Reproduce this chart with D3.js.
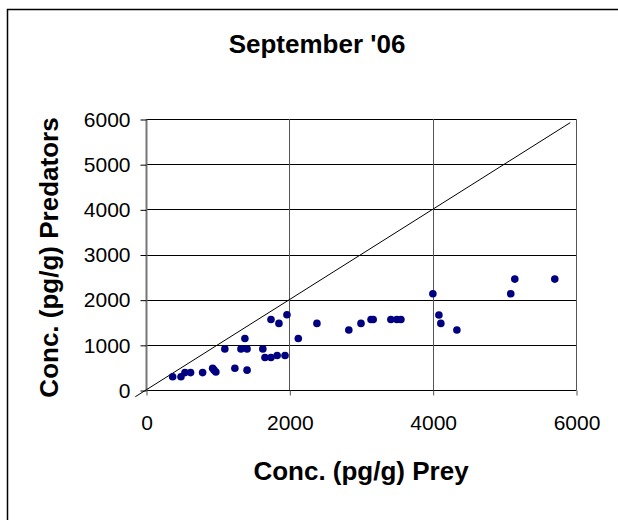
<!DOCTYPE html>
<html>
<head>
<meta charset="utf-8">
<script src="https://cdn.jsdelivr.net/npm/d3@7"></script>
<style>
html,body{margin:0;padding:0;background:#fff;}
svg{display:block;font-family:"Liberation Sans",Arial,sans-serif;}
</style>
</head>
<body>
<svg id="chart" width="618" height="520"></svg>
<script>
const titleText = "September '06";
const xTitle = "Conc. (pg/g) Prey";
const yTitle = "Conc. (pg/g) Predators";
const xTicks = [0, 2000, 4000, 6000];
const yTicks = [0, 1000, 2000, 3000, 4000, 5000, 6000];
const preyValues = [372, 488, 544, 622, 790, 930, 950, 975, 1100, 1240, 1325, 1380, 1410, 1410, 1630, 1660, 1744, 1830, 1940, 1744, 1855, 1967, 2125, 2385, 2830, 3000, 3140, 3170, 3417, 3500, 3557, 4003, 4087, 4114, 4338, 5090, 5146, 5704];
const predatorValues = [295, 295, 385, 385, 385, 480, 440, 400, 910, 480, 910, 1140, 910, 440, 910, 720, 720, 765, 765, 1560, 1475, 1665, 1140, 1475, 1330, 1475, 1560, 1560, 1560, 1560, 1560, 2130, 1660, 1475, 1330, 2130, 2455, 2455];
const lineX = [-150, 5920];
const lineY = [-150, 5920];

const svg = d3.select("#chart");
const pLeft = 146, pRight = 576, pTop = 119, pBottom = 390;
const x = d3.scaleLinear().domain([0, 6000]).range([pLeft, pRight]);
const y = d3.scaleLinear().domain([0, 6000]).range([pBottom, pTop]);

// outer border (only top/left visible)
svg.append("rect").attr("x", 7.5).attr("y", 9.5).attr("width", 640).attr("height", 540)
  .attr("fill", "none").attr("stroke", "#000").attr("stroke-width", 1.5);

// horizontal gridlines
svg.append("g").selectAll("line").data(yTicks.filter(d => d > 0)).join("line")
  .attr("x1", pLeft).attr("x2", pRight)
  .attr("y1", d => Math.round(y(d)) + 0.5).attr("y2", d => Math.round(y(d)) + 0.5)
  .attr("stroke", "#000").attr("stroke-width", 1);
// vertical gridlines
svg.append("g").selectAll("line").data(xTicks.filter(d => d > 0)).join("line")
  .attr("y1", pTop).attr("y2", pBottom)
  .attr("x1", d => Math.round(x(d)) + 0.5).attr("x2", d => Math.round(x(d)) + 0.5)
  .attr("stroke", "#555").attr("stroke-width", 1);

// axes
const xAxis = d3.axisBottom(x).tickValues(xTicks).tickSize(5).tickPadding(20).tickFormat(d3.format("d"));
const gx = svg.append("g").attr("transform", `translate(0.5,${pBottom + 0.5})`).call(xAxis);
gx.select(".domain").attr("stroke", "#000").attr("d", `M${pLeft},0H${pRight}`);
gx.selectAll(".tick line").attr("stroke", "#555");
gx.selectAll("text").attr("font-size", 21).attr("fill", "#000").attr("font-family", "Liberation Sans, Arial, sans-serif");

const yAxis = d3.axisLeft(y).tickValues(yTicks).tickSize(6).tickPadding(10).tickFormat(d3.format("d"));
const gy = svg.append("g").attr("transform", `translate(${pLeft + 0.5},0.5)`).call(yAxis);
gy.select(".domain").attr("stroke", "#777").attr("stroke-width", 2).attr("d", `M0,${pTop}V${pBottom}`);
gy.selectAll(".tick line").attr("stroke", "#000");
gy.selectAll("text").attr("font-size", 21).attr("fill", "#000").attr("font-family", "Liberation Sans, Arial, sans-serif");

// 1:1 line
svg.append("line")
  .attr("x1", x(lineX[0])).attr("y1", y(lineY[0]))
  .attr("x2", x(lineX[1])).attr("y2", y(lineY[1]))
  .attr("stroke", "#000").attr("stroke-width", 1);

// points
svg.append("g").selectAll("circle").data(preyValues.map((v, i) => [v, predatorValues[i]])).join("circle")
  .attr("cx", d => x(d[0])).attr("cy", d => y(d[1])).attr("r", 3.8)
  .attr("fill", "#000080");

// titles
svg.append("text").attr("x", 317).attr("y", 53).attr("text-anchor", "middle")
  .attr("font-size", 26).attr("font-weight", "bold").text(titleText);
svg.append("text").attr("x", (pLeft + pRight) / 2).attr("y", 480).attr("text-anchor", "middle")
  .attr("font-size", 26).attr("font-weight", "bold").text(xTitle);
svg.append("text").attr("transform", `translate(58,${(pTop + pBottom) / 2 + 3}) rotate(-90)`)
  .attr("text-anchor", "middle")
  .attr("font-size", 26).attr("font-weight", "bold").text(yTitle);
</script>
</body>
</html>
